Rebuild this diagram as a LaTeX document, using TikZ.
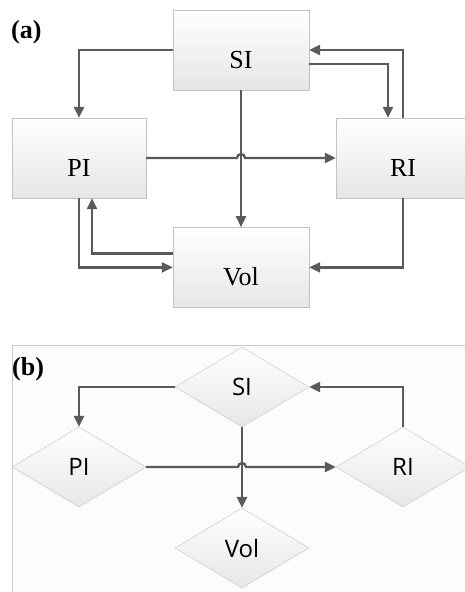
\documentclass[tikz,border=0pt]{standalone}
\usepackage{fontspec}
\setmainfont{Liberation Serif}
\newfontfamily\diafont{Open Sans}
\usetikzlibrary{shapes.geometric, arrows.meta, positioning, calc}
\definecolor{linegray}{RGB}{90,90,90}
\definecolor{boxedge}{RGB}{195,195,195}
\definecolor{boxlow}{RGB}{230,230,230}
\definecolor{framegray}{RGB}{200,200,200}
\definecolor{paneltint}{RGB}{252,252,252}
\tikzset{
  block/.style={rectangle, draw=boxedge, top color=white, bottom color=boxlow,
    minimum width=136pt, minimum height=80pt, inner sep=0pt,
    text height=36pt, text depth=0pt, font=\fontsize{26}{30}\selectfont},
  dia/.style={diamond, draw=boxedge, top color=white, bottom color=boxlow,
    minimum width=134pt, minimum height=80pt, inner sep=0pt,
    font=\diafont\fontsize{24}{28}\selectfont},
  conn/.style={-{Triangle[length=11pt, width=10pt]}, line width=2.3pt, color=linegray},
  panel/.style={font=\bfseries\fontsize{26}{30}\selectfont, inner sep=0pt, anchor=west},
}
\begin{document}
\begin{tikzpicture}[x=1pt, y=-1pt, node distance=137pt]
  \useasboundingbox (0,0) rectangle (465,592);
  \clip (0,0) rectangle (465,592);
  % panel (b) frame
  \draw[framegray, fill=paneltint] (12,345) rectangle (480,600);

  % (a) boxes
  \node[block] (SI) at (241,50) {SI};
  \node[block, below=of SI] (Vol) {Vol};
  \node[block, minimum width=134pt] (PI) at (79,158) {PI};
  \node[block, minimum width=134pt] (RI) at (403,158) {RI};
  \node[panel] (laba) at (11,32) {(a)};

  \draw[conn] (SI.west) -| (PI.north);
  \draw[conn] ([yshift=-14pt]SI.east) -| ([xshift=-15pt]RI.north);
  \draw[conn] (RI.north) |- (SI.east);
  \draw[conn] (SI.south) -- (Vol.north);
  \coordinate (hopa) at (SI.south |- PI.east);
  \draw[conn] (PI.east) -- ([xshift=-4pt]hopa)
    arc[start angle=180, end angle=0, radius=4pt] -- (RI.west);
  \draw[conn] (RI.south) |- (Vol.east);
  \draw[conn] ([yshift=14pt]Vol.west) -| ([xshift=13pt]PI.south);
  \draw[conn] (PI.south) |- (Vol.west);

  % (b) diamonds
  \node[dia] (SIb) at (242,387) {SI};
  \node[dia] (PIb) at (79,467) {PI};
  \node[dia] (RIb) at (403,467) {RI};
  \node[dia] (Volb) at (242,548) {Vol};
  \node[panel] (labb) at (12,369) {(b)};

  \draw[conn] (SIb.west) -| (PIb.north);
  \draw[conn] (RIb.north) |- (SIb.east);
  \draw[conn] (SIb.south) -- (Volb.north);
  \coordinate (hopb) at (SIb.south |- PIb.east);
  \draw[conn] (PIb.east) -- ([xshift=-4pt]hopb)
    arc[start angle=180, end angle=0, radius=4pt] -- (RIb.west);
\end{tikzpicture}
\end{document}
